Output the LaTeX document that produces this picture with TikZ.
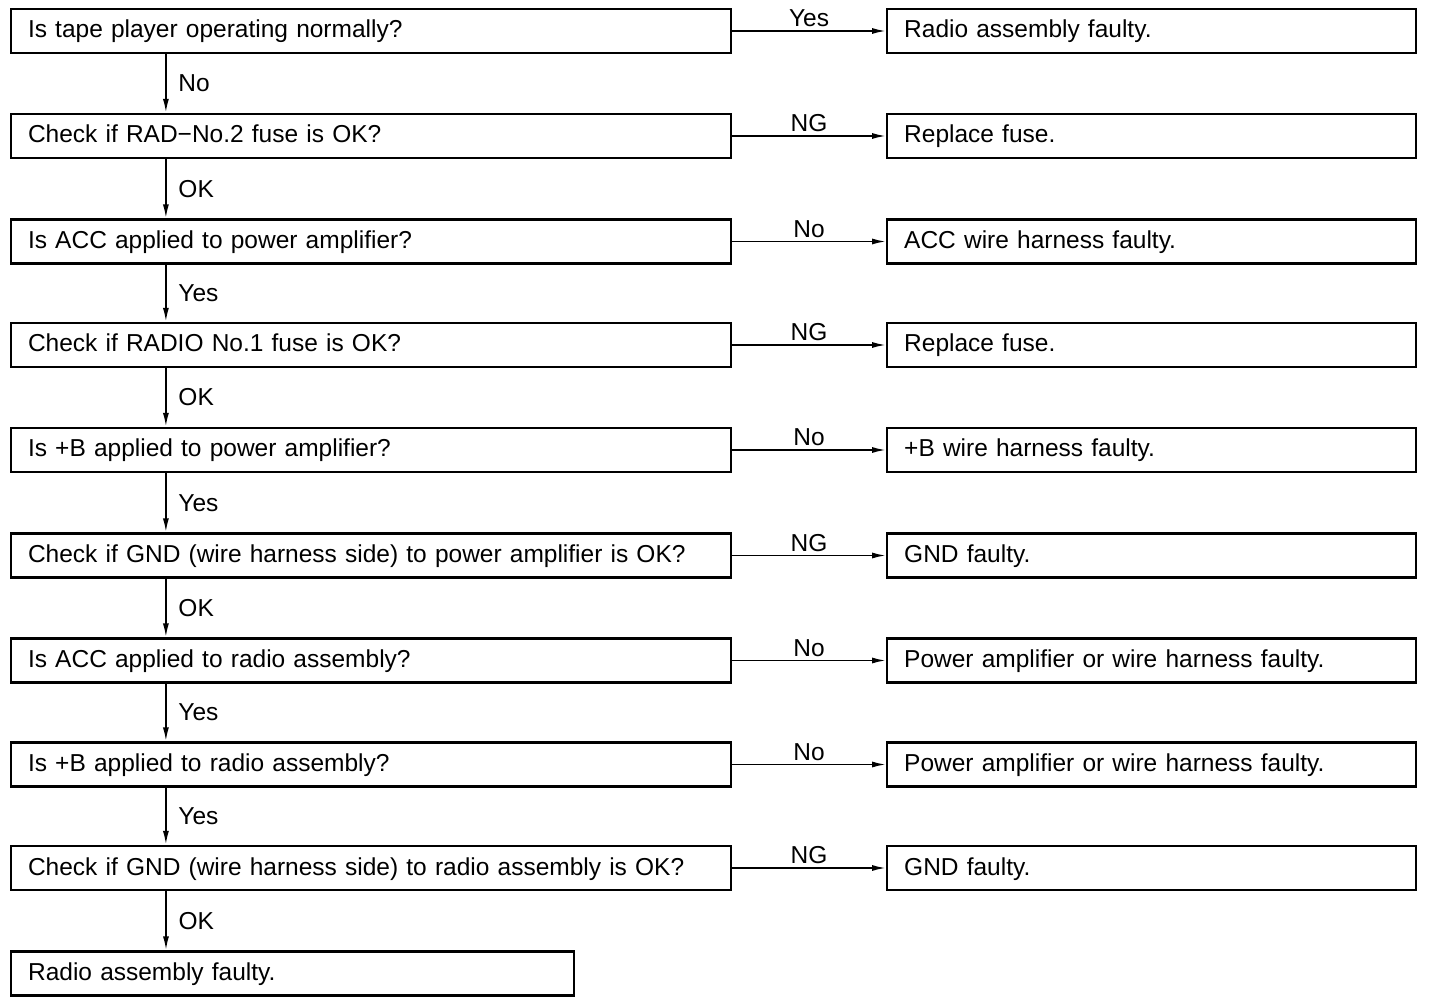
\documentclass[tikz,border=0pt]{standalone}
\usepackage{fontspec}
\setmainfont{Liberation Sans}
\usepackage{tikz}
\usetikzlibrary{arrows.meta, positioning}

\tikzset{
	qbox/.style={draw, line width=1.1pt, text width=343pt, align=left, inner xsep=8.5pt,
		minimum height=22pt, text height=9pt, text depth=2pt},
	abox/.style={qbox, text width=247.5pt},
	endbox/.style={qbox, text width=264.4pt},
	flow/.style={-{Latex[length=7pt, width=3pt]}, line width=0.9pt},
	ylabel/.style={midway, right, xshift=2.5pt},
	hlabel/.style={midway, above, inner sep=1.5pt}
}

\begin{document}
\begin{tikzpicture}[x=0.5pt, y=-0.5pt, font=\fontsize{12.25pt}{14pt}\selectfont]
			\useasboundingbox (0, 0) rectangle (1440, 1004);
			% Question boxes and answer boxes:
			\node[qbox](Q1) at (371, 31){Is tape player operating normally?};
			\node[qbox](Q2) at (371, 136){Check if RAD−No.2 fuse is OK?};
			\node[qbox](Q3) at (371, 241.5){Is ACC applied to power amplifier?};
			\node[qbox](Q4) at (371, 345){Check if RADIO No.1 fuse is OK?};
			\node[qbox](Q5) at (371, 450){Is +B applied to power amplifier?};
			\node[qbox](Q6) at (371, 555.5){Check if GND (wire harness side) to power amplifier is OK?};
			\node[qbox](Q7) at (371, 660.5){Is ACC applied to radio assembly?};
			\node[qbox](Q8) at (371, 764.5){Is +B applied to radio assembly?};
			\node[qbox](Q9) at (371, 868){Check if GND (wire harness side) to radio assembly is OK?};
			\node[endbox](E) at (292.5, 973.5){Radio assembly faulty.};
			\node[abox, right=77pt of Q1](A1){Radio assembly faulty.};
			\node[abox, right=77pt of Q2](A2){Replace fuse.};
			\node[abox, right=77pt of Q3](A3){ACC wire harness faulty.};
			\node[abox, right=77pt of Q4](A4){Replace fuse.};
			\node[abox, right=77pt of Q5](A5){+B wire harness faulty.};
			\node[abox, right=77pt of Q6](A6){GND faulty.};
			\node[abox, right=77pt of Q7](A7){Power amplifier or wire harness faulty.};
			\node[abox, right=77pt of Q8](A8){Power amplifier or wire harness faulty.};
			\node[abox, right=77pt of Q9](A9){GND faulty.};
			% Arrows:
			\draw[flow] (Q1.east) -- (A1.west) node[hlabel]{Yes};
			\draw[flow] (Q2.east) -- (A2.west) node[hlabel]{NG};
			\draw[flow] (Q3.east) -- (A3.west) node[hlabel]{No};
			\draw[flow] (Q4.east) -- (A4.west) node[hlabel]{NG};
			\draw[flow] (Q5.east) -- (A5.west) node[hlabel]{No};
			\draw[flow] (Q6.east) -- (A6.west) node[hlabel]{NG};
			\draw[flow] (Q7.east) -- (A7.west) node[hlabel]{No};
			\draw[flow] (Q8.east) -- (A8.west) node[hlabel]{No};
			\draw[flow] (Q9.east) -- (A9.west) node[hlabel]{NG};
			\draw[flow] ([xshift=78pt]Q1.south west) -- ([xshift=78pt]Q2.north west) node[ylabel]{No};
			\draw[flow] ([xshift=78pt]Q2.south west) -- ([xshift=78pt]Q3.north west) node[ylabel]{OK};
			\draw[flow] ([xshift=78pt]Q3.south west) -- ([xshift=78pt]Q4.north west) node[ylabel]{Yes};
			\draw[flow] ([xshift=78pt]Q4.south west) -- ([xshift=78pt]Q5.north west) node[ylabel]{OK};
			\draw[flow] ([xshift=78pt]Q5.south west) -- ([xshift=78pt]Q6.north west) node[ylabel]{Yes};
			\draw[flow] ([xshift=78pt]Q6.south west) -- ([xshift=78pt]Q7.north west) node[ylabel]{OK};
			\draw[flow] ([xshift=78pt]Q7.south west) -- ([xshift=78pt]Q8.north west) node[ylabel]{Yes};
			\draw[flow] ([xshift=78pt]Q8.south west) -- ([xshift=78pt]Q9.north west) node[ylabel]{Yes};
			\draw[flow] ([xshift=78pt]Q9.south west) -- ([xshift=78pt]E.north west) node[ylabel]{OK};
		\end{tikzpicture}
\end{document}
